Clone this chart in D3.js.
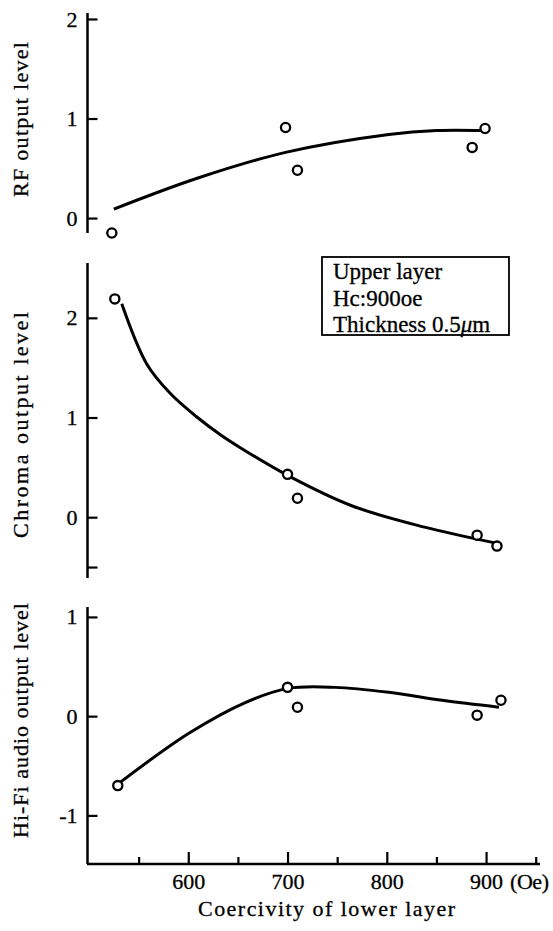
<!DOCTYPE html>
<html>
<head>
<meta charset="utf-8">
<script src="https://cdn.jsdelivr.net/npm/d3@7"></script>
<style>
body { margin: 0; background: #fff; }
svg { display: block; }
</style>
</head>
<body>
<svg id="chart"></svg>
<script>
// x ticks (Oe)
var xMajor = [600, 700, 800, 900];
var xMinor = [550, 650, 750, 850, 950];

// RF output level
var rfPoints = [[523, -0.15], [698, 0.91], [710, 0.48], [886, 0.71], [899, 0.90]];
var rfCurve = [[525, 0.09], [609, 0.40], [698, 0.66], [802, 0.84], [850, 0.88], [897, 0.88]];
var rfTicks = [0, 1, 2];

// Chroma output level
var chromaPoints = [[526, 2.19], [700, 0.43], [710, 0.19], [891, -0.18], [911, -0.29]];
var chromaCurve = [[533, 2.14], [558, 1.54], [582, 1.24], [608, 1.01], [632, 0.83], [652, 0.70], [700, 0.42], [766, 0.11], [838, -0.10], [910, -0.26]];
var chromaTicks = [-0.5, 0, 1, 2];

// Hi-Fi audio output level
var hifiPoints = [[529, -0.70], [700, 0.29], [710, 0.09], [891, 0.01], [915, 0.16]];
var hifiCurve = [[531, -0.67], [601, -0.17], [658, 0.14], [701, 0.28], [748, 0.29], [802, 0.24], [856, 0.16], [913, 0.09]];
var hifiTicks = [-1, 0, 1];

var legendLines = ["Upper layer", "Hc:900oe", "Thickness 0.5"];

var W = 553, H = 931;
var font = "'Liberation Serif', 'DejaVu Serif', serif";

var svg = d3.select("#chart")
	.attr("width", W)
	.attr("height", H);

var x = d3.scaleLinear().domain([500, 950]).range([89, 535.7]);

var panels = [
	{ pts: rfPoints, curve: rfCurve, ticks: rfTicks, dom: [-0.15, 2.06], rng: [233, 13],
	  label: "RF output level", lx: 28, ly: 119.5, llen: 155 },
	{ pts: chromaPoints, curve: chromaCurve, ticks: chromaTicks, dom: [-0.61, 2.55], rng: [578, 263],
	  label: "Chroma output level", lx: 27.5, ly: 425, llen: 226 },
	{ pts: hifiPoints, curve: hifiCurve, ticks: hifiTicks, dom: [-1.49, 1.1], rng: [864, 607],
	  label: "Hi-Fi audio output level", lx: 28, ly: 720.5, llen: 235 }
];

var axisX = 87.5;

function heavy(sel) {
	sel.attr("fill", "#000")
		.attr("stroke", "#000")
		.attr("stroke-width", 0.3);
}

panels.forEach(function(p) {
	var y = d3.scaleLinear().domain(p.dom).range(p.rng);

	// vertical axis
	svg.append("line")
		.attr("x1", axisX).attr("x2", axisX)
		.attr("y1", p.rng[1]).attr("y2", p.rng[0])
		.attr("stroke", "#000").attr("stroke-width", 2.5);

	var g = svg.append("g")
		.attr("transform", "translate(" + axisX + ",0)")
		.call(d3.axisLeft(y)
			.tickValues(p.ticks)
			.tickSize(-10)
			.tickPadding(10)
			.tickFormat(function(d) { return d === -0.5 ? "" : String(d); }));
	g.select(".domain").remove();
	g.selectAll(".tick line").attr("stroke", "#000").attr("stroke-width", 2.2);
	g.selectAll(".tick text")
		.attr("font-family", font)
		.attr("font-size", "22px")
		.call(heavy);

	// fitted curve
	svg.append("path")
		.datum(p.curve)
		.attr("fill", "none")
		.attr("stroke", "#000")
		.attr("stroke-width", 3)
		.attr("d", d3.line()
			.x(function(d) { return x(d[0]); })
			.y(function(d) { return y(d[1]); })
			.curve(d3.curveCatmullRom.alpha(0.5)));

	// measured points
	svg.selectAll(null)
		.data(p.pts)
		.enter().append("circle")
		.attr("cx", function(d) { return x(d[0]); })
		.attr("cy", function(d) { return y(d[1]); })
		.attr("r", 4.6)
		.attr("fill", "#fff")
		.attr("stroke", "#000")
		.attr("stroke-width", 2.3);

	// y label
	svg.append("text")
		.attr("transform", "translate(" + p.lx + "," + p.ly + ") rotate(-90)")
		.attr("text-anchor", "middle")
		.attr("font-family", font)
		.attr("font-size", "22px")
		.attr("textLength", p.llen)
		.attr("lengthAdjust", "spacing")
		.text(p.label)
		.call(heavy);
});

// x axis (bottom panel)
var xAxisY = 864;
svg.append("line")
	.attr("x1", 87).attr("x2", 540)
	.attr("y1", xAxisY).attr("y2", xAxisY)
	.attr("stroke", "#000").attr("stroke-width", 2.6);

var gx = svg.append("g")
	.attr("transform", "translate(0," + xAxisY + ")")
	.call(d3.axisBottom(x).tickValues(xMajor).tickSize(-12).tickPadding(9.5));
gx.select(".domain").remove();
gx.selectAll(".tick line").attr("stroke", "#000").attr("stroke-width", 2.2);
gx.selectAll(".tick text")
	.attr("font-family", font)
	.attr("font-size", "22px")
	.call(heavy);

var gm = svg.append("g")
	.attr("transform", "translate(0," + xAxisY + ")")
	.call(d3.axisBottom(x).tickValues(xMinor).tickSize(-7).tickFormat(""));
gm.select(".domain").remove();
gm.selectAll(".tick line").attr("stroke", "#000").attr("stroke-width", 2.2);

svg.append("text")
	.attr("x", 510).attr("y", 889)
	.attr("font-family", font)
	.attr("font-size", "22px")
	.attr("textLength", 39)
	.text("(Oe)")
	.call(heavy);

svg.append("text")
	.attr("x", 326.5).attr("y", 916)
	.attr("text-anchor", "middle")
	.attr("font-family", font)
	.attr("font-size", "22px")
	.attr("textLength", 257)
	.attr("lengthAdjust", "spacing")
	.text("Coercivity of lower layer")
	.call(heavy);

// legend box
svg.append("rect")
	.attr("x", 322).attr("y", 257)
	.attr("width", 187).attr("height", 78)
	.attr("fill", "#fff")
	.attr("stroke", "#000")
	.attr("stroke-width", 1.8);

legendLines.forEach(function(t, i) {
	var tx = svg.append("text")
		.attr("x", 333).attr("y", 279 + i * 26.5)
		.attr("font-family", font)
		.attr("font-size", "23px")
		.text(t)
		.call(heavy);
	if (i === 2) {
		tx.append("tspan").attr("font-style", "italic").text("\u03bc");
		tx.append("tspan").text("m");
	}
});
</script>
</body>
</html>
